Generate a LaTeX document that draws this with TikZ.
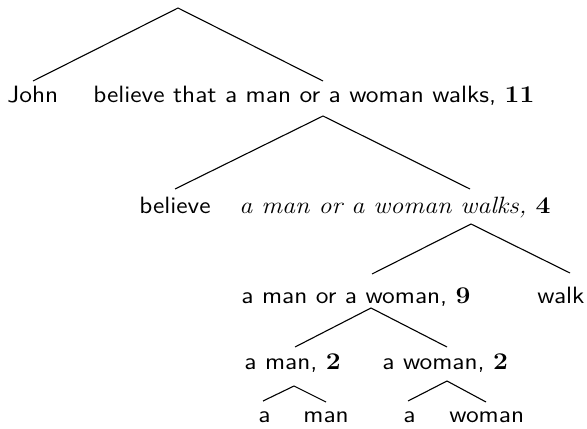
\documentclass[tikz,border=0pt]{standalone}
\usepackage{amsmath}
\usepackage{graphicx}
\newcommand{\wide}[1]{\scalebox{1.1}[1]{#1}}
\begin{document}
\begin{tikzpicture}[x=0.5pt,y=-0.5pt,
  lbl/.style={anchor=base west,inner sep=0pt,font=\fontsize{11.8}{13}\selectfont\sffamily},
  branch/.style={line width=0.55pt,black}]
\useasboundingbox (0,0) rectangle (587,428);
% nodes
\node[lbl] (john) at (7,102) {\wide{John}};
\node[lbl] (s1) at (93,102) {\wide{believe that a man or a woman walks, $\mathbf{11}$}};
\node[lbl] (believe) at (139,213) {\wide{believe}};
\node[lbl] (s2) at (239,213) {\wide{\rmfamily\itshape a man or a woman walks, $\mathbf{4}$}};
\node[lbl] (np) at (241,303) {\wide{a man or a woman, $\mathbf{9}$}};
\node[lbl] (walk) at (537,303) {\wide{walk}};
\node[lbl] (aman) at (244,369) {\wide{a man, $\mathbf{2}$}};
\node[lbl] (awoman) at (382,369) {\wide{a woman, $\mathbf{2}$}};
\node[lbl] (a1) at (258,422) {\wide{a}};
\node[lbl] (man) at (303,422) {\wide{man}};
\node[lbl] (a2) at (403,422) {\wide{a}};
\node[lbl] (woman) at (449,422) {\wide{woman}};
% apexes and ends
\coordinate (r0) at (178,8);
\coordinate (r0l) at (33,81);
\coordinate (r0r) at (323,81);
\coordinate (r1) at (323,116);
\coordinate (r1l) at (175,189);
\coordinate (r1r) at (470,189);
\coordinate (r2) at (471,224);
\coordinate (r2l) at (372,274);
\coordinate (r2r) at (570,273);
\coordinate (r3) at (371,308);
\coordinate (r3l) at (295,347);
\coordinate (r3r) at (447,347);
\coordinate (r4) at (294,386);
\coordinate (r4l) at (263,401);
\coordinate (r4r) at (326,402);
\coordinate (r5) at (447,381);
\coordinate (r5l) at (408,401);
\coordinate (r5r) at (486,402);
\draw[branch] (r0l) -- (r0) -- (r0r);
\draw[branch] (r1l) -- (r1) -- (r1r);
\draw[branch] (r2l) -- (r2) -- (r2r);
\draw[branch] (r3l) -- (r3) -- (r3r);
\draw[branch] (r4l) -- (r4) -- (r4r);
\draw[branch] (r5l) -- (r5) -- (r5r);
\end{tikzpicture}
\end{document}
